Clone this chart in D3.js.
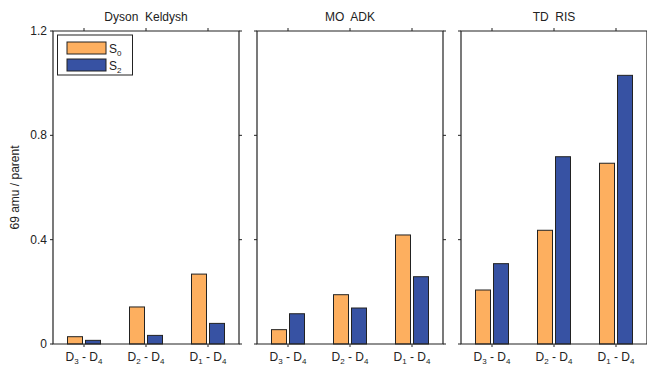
<!DOCTYPE html>
<html>
<head>
<meta charset="utf-8">
<script src="https://cdn.jsdelivr.net/npm/d3@7"></script>
<style>
  body { margin: 0; background: #fff; }
  text { font-family: "Liberation Sans", Arial, sans-serif; fill: #222; }
</style>
</head>
<body>
<div id="chart"></div>
<script>
// data
var panels = ["Dyson  Keldysh", "MO  ADK", "TD  RIS"];
var pairs = [["3", "4"], ["2", "4"], ["1", "4"]];
var seriesNames = ["0", "2"];
var s0Values = [
    [0.028, 0.142, 0.268],
    [0.055, 0.189, 0.418],
    [0.207, 0.436, 0.693]
];
var s2Values = [
    [0.014, 0.033, 0.079],
    [0.116, 0.138, 0.258],
    [0.308, 0.718, 1.030]
];
var yTicks = [0, 0.4, 0.8, 1.2];
var yTickLabels = ["0", "0.4", "0.8", "1.2"];

var width = 647,
    height = 371,
    colors = ["#fdaf5f", "#3752a3"],
    panelLeft = [53, 257, 461],
    panelW = 186,
    plotTop = 31,
    plotBottom = 344;

var svg = d3.select("#chart").append("svg")
    .attr("width", width)
    .attr("height", height);

var y = d3.scaleLinear().domain([0, 1.2]).range([plotBottom, plotTop]);

panels.forEach(function (name, p) {
    var x = d3.scaleLinear().domain([0.5, 3.5]).range([panelLeft[p], panelLeft[p] + panelW]);
    var g = svg.append("g");

    // bars
    [s0Values[p], s2Values[p]].forEach(function (vals, s) {
        g.selectAll("rect.s" + s).data(vals).enter().append("rect")
            .attr("class", "s" + s)
            .attr("x", function (d, i) { return x(i + 1) + (s === 0 ? -16.5 : 1.5); })
            .attr("width", 15)
            .attr("y", function (d) { return y(d); })
            .attr("height", function (d) { return plotBottom - y(d); })
            .attr("fill", colors[s])
            .attr("stroke", "#222")
            .attr("stroke-width", 1);
    });

    // frame
    var x0 = panelLeft[p], x1 = panelLeft[p] + panelW;
    g.append("path")
        .attr("d", "M" + x0 + "," + plotTop + "H" + x1 + "V" + plotBottom + "H" + x0 + "Z")
        .attr("fill", "none")
        .attr("stroke", "#222")
        .attr("stroke-width", 1.2);

    // y ticks on both sides (outward)
    yTicks.forEach(function (t) {
        g.append("line").attr("x1", x0 - 3).attr("x2", x0).attr("y1", y(t)).attr("y2", y(t))
            .attr("stroke", "#222");
        g.append("line").attr("x1", x1).attr("x2", x1 + 3).attr("y1", y(t)).attr("y2", y(t))
            .attr("stroke", "#222");
    });

    // x ticks top and bottom (outward)
    [1, 2, 3].forEach(function (c) {
        g.append("line").attr("x1", x(c)).attr("x2", x(c)).attr("y1", plotTop - 3).attr("y2", plotTop)
            .attr("stroke", "#222");
        g.append("line").attr("x1", x(c)).attr("x2", x(c)).attr("y1", plotBottom).attr("y2", plotBottom + 3)
            .attr("stroke", "#222");
    });

    // category labels with subscripts
    pairs.forEach(function (pr, i) {
        var t = g.append("text")
            .attr("x", x(i + 1))
            .attr("y", 361)
            .attr("text-anchor", "middle")
            .attr("font-size", 12);
        t.append("tspan").text("D");
        t.append("tspan").attr("font-size", 8).attr("dy", 3).text(pr[0]);
        t.append("tspan").attr("dy", -3).text(" - D");
        t.append("tspan").attr("font-size", 8).attr("dy", 3).text(pr[1]);
    });

    // title
    g.append("text")
        .attr("x", (x0 + x1) / 2)
        .attr("y", 21)
        .attr("text-anchor", "middle")
        .attr("font-size", 12)
        .style("white-space", "pre")
        .text(name);

    if (p === 0) {
        yTicks.forEach(function (t, i) {
            g.append("text")
                .attr("x", x0 - 6)
                .attr("y", y(t) + 4)
                .attr("text-anchor", "end")
                .attr("font-size", 12)
                .text(yTickLabels[i]);
        });
    }
});

// y axis title
svg.append("text")
    .attr("transform", "translate(19," + ((plotTop + plotBottom) / 2) + ") rotate(-90)")
    .attr("text-anchor", "middle")
    .attr("font-size", 12)
    .text("69 amu / parent");

// legend
var leg = svg.append("g");
leg.append("rect")
    .attr("x", 57.5).attr("y", 35).attr("width", 75).attr("height", 40)
    .attr("fill", "#fff").attr("stroke", "#222").attr("stroke-width", 1);
seriesNames.forEach(function (s, i) {
    leg.append("rect")
        .attr("x", 67).attr("y", 42 + i * 17).attr("width", 39).attr("height", 12)
        .attr("fill", colors[i]).attr("stroke", "#222");
    var t = leg.append("text")
        .attr("x", 109).attr("y", 53 + i * 17)
        .attr("font-size", 12);
    t.append("tspan").text("S");
    t.append("tspan").attr("font-size", 8).attr("dy", 3).text(s);
});
</script>
</body>
</html>
